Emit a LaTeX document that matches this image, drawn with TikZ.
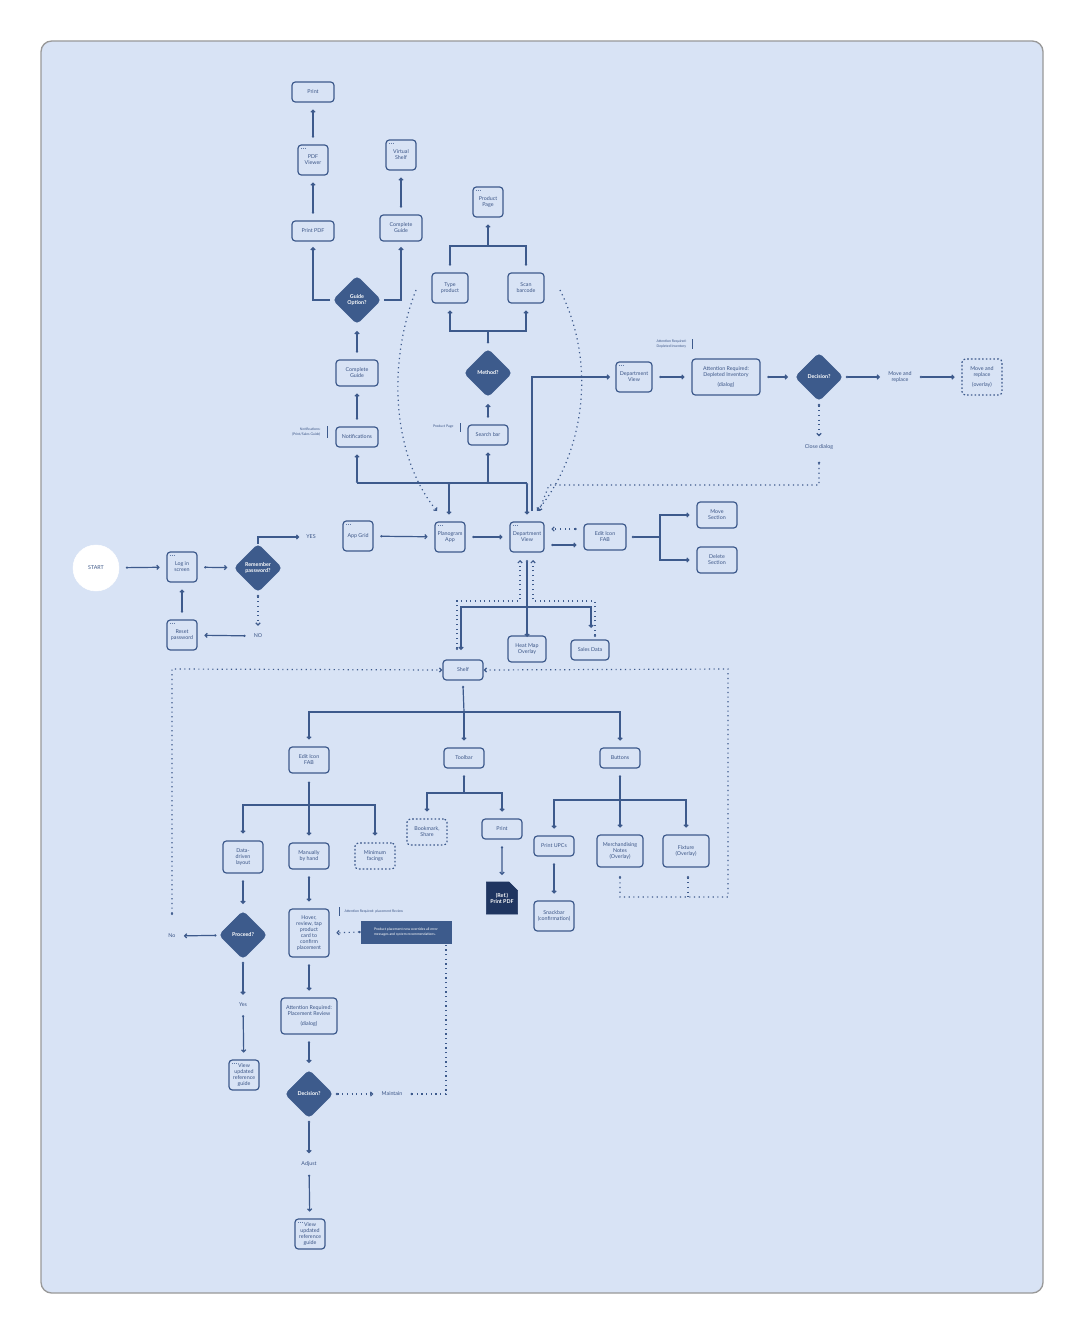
\documentclass[tikz,border=0pt]{standalone}
\usepackage{fontspec}
\setmainfont{Lato}
\usetikzlibrary{arrows.meta,shapes.geometric,shapes.misc}
\definecolor{bg}{HTML}{D8E3F5}
\definecolor{lc}{HTML}{3D5A8C}
\definecolor{tc}{HTML}{3B5586}
\definecolor{dc}{HTML}{3D5B8C}
\definecolor{dk}{HTML}{1F3560}
\newcommand\tf{\fontsize{4}{4.5}\selectfont}
\newcommand\tinyf{\fontsize{2.6}{3.2}\selectfont}
\newcommand\mydots[1]{\foreach \k in {0,1,2}{\fill[lc] ([shift={(4+2*\k,4)}]#1.north west) circle (0.35pt);}}
\tikzset{
 x=0.75pt,y=-0.75pt,
 bx/.style 2 args={draw=lc,line width=0.9pt,rounded corners=2.5pt,fill=bg,minimum width=#1*0.75pt,minimum height=#2*0.75pt,inner sep=0.5pt,align=center,font=\tf,text=tc},
 dbx/.style 2 args={bx={#1}{#2},dash pattern=on 1.2pt off 1.6pt},
 dia/.style={diamond,fill=dc,draw=dc,rounded corners=3pt,minimum width=48*0.75pt,minimum height=48*0.75pt,inner sep=0,text=white,font=\tf\bfseries,align=center},
 lbl/.style={font=\tf,text=tc,align=center,inner sep=1pt},
 ar/.style={line width=0.9pt,draw=lc,{Circle[length=1.6pt]}-{Straight Barb[length=1.6pt,width=3.2pt]},shorten <=5pt,shorten >=5pt},
 dar/.style={ar,dash pattern=on 0.9pt off 2.6pt},
 ln/.style={line width=0.9pt,draw=lc},
 dln/.style={ln,dash pattern=on 0.9pt off 2.6pt},
 tip/.style={ln,-{Straight Barb[length=1.6pt,width=3.2pt]}},
 dtip/.style={tip,dash pattern=on 0.9pt off 2.6pt},
}
\begin{document}
\begin{tikzpicture}
\useasboundingbox (0,0) rectangle (1084,1334);
\fill[white] (0,0) rectangle (1084,1334);
\draw[fill=bg,draw=gray!80,line width=1pt,rounded corners=8pt] (41,41) rectangle (1043,1293);

% ---- nodes
\node[circle,fill=white,draw=white,minimum size=46*0.75pt,font=\tf,text=tc] (start) at (96,568) {START};
\node[bx={30}{30}] (login) at (182,567) {Log in\\screen}; \mydots{login}
\node[dia] (rp) at (258,568) {Remember\\password?};
\node[lbl] (yes) at (311,537) {YES};
\node[lbl] (no) at (258,636) {NO};
\node[bx={30}{30}] (reset) at (182,635) {Reset\\password}; \mydots{reset}
\node[bx={30}{30}] (grid) at (358,536) {App Grid}; \mydots{grid}
\node[bx={30}{30}] (pa) at (450,537) {Planogram\\App}; \mydots{pa}
\node[bx={34}{30}] (dv) at (527,537) {Department\\View}; \mydots{dv}
\node[bx={42}{26}] (fab) at (605,537) {Edit Icon\\FAB};
\node[bx={40}{26}] (move) at (717,515) {Move\\Section};
\node[bx={40}{26}] (del) at (717,560) {Delete\\Section};
\node[bx={38}{26}] (heat) at (527,649) {Heat Map\\Overlay};
\node[bx={38}{20}] (sales) at (590,650) {Sales Data};
\node[bx={40}{20}] (shelf) at (463,670) {Shelf};

\node[bx={42}{20}] (notif) at (357,437) {Notifications};
\node[lbl,font=\tinyf,align=right,anchor=east] (notl) at (322,432) {Notifications:\\(Print/Sales Guide)};
\draw[ln,line width=0.6pt] (327,426) -- (327,438);
\node[bx={42}{26}] (cg1) at (357,373) {Complete\\Guide};
\node[dia] (go) at (357,300) {Guide\\Option?};
\node[bx={42}{20}] (ppdf) at (313,231) {Print PDF};
\node[bx={30}{30}] (pdfv) at (313,160) {PDF\\Viewer}; \mydots{pdfv}
\node[bx={42}{20}] (print1) at (313,92) {Print};
\node[bx={42}{26}] (cg2) at (401,228) {Complete\\Guide};
\node[bx={30}{30}] (vs) at (401,155) {Virtual\\Shelf}; \mydots{vs}

\node[bx={40}{20}] (sb) at (488,435) {Search bar};
\node[lbl,font=\tinyf,anchor=east] (ppl) at (455,427) {Product Page};
\draw[ln,line width=0.6pt] (460,423) -- (460,432);
\node[dia] (meth) at (488,373) {Method?};
\node[bx={36}{30}] (type) at (450,288) {Type\\product};
\node[bx={36}{30}] (scan) at (526,288) {Scan\\barcode};
\node[bx={30}{30}] (pp) at (488,202) {Product\\Page}; \mydots{pp}

\node[bx={36}{30}] (dv2) at (634,377) {Department\\View}; \mydots{dv2}
\node[bx={68}{36}] (att1) at (726,377) {Attention Required:\\Depleted Inventory\\[3pt](dialog)};
\node[lbl,font=\tinyf,align=left,anchor=east] (attl) at (688,344) {Attention Required:\\Depleted Inventory};
\draw[ln,line width=0.6pt] (692,339) -- (692,349);
\node[dia] (dec1) at (819,377) {Decision?};
\node[lbl] (mr) at (900,377) {Move and\\replace};
\node[dbx={40}{36}] (mro) at (982,377) {Move and\\replace\\[3pt](overlay)};
\node[lbl] (close) at (819,447) {Close dialog};

\node[bx={40}{26}] (fab2) at (309,760) {Edit Icon\\FAB};
\node[bx={40}{20}] (tool) at (464,758) {Toolbar};
\node[bx={40}{20}] (btn) at (620,758) {Buttons};
\node[bx={40}{32}] (dd) at (243,857) {Data-\\driven\\layout};
\node[bx={40}{26}] (man) at (309,856) {Manually\\by hand};
\node[dbx={40}{26}] (minf) at (375,856) {Minimum\\facings};
\node[dbx={40}{26}] (bm) at (427,832) {Bookmark,\\Share};
\node[bx={40}{20}] (print2) at (502,829) {Print};
\node[fill=dk,draw=dk,minimum width=26*0.75pt,minimum height=32*0.75pt,inner sep=0,text=white,font=\tf\bfseries,align=center,
  chamfered rectangle,chamfered rectangle corners=north east,chamfered rectangle xsep=3pt] (ref) at (502,898) {(Ref.)\\Print PDF};
\node[bx={40}{20}] (upc) at (554,846) {Print UPCs};
\node[bx={46}{32}] (merch) at (620,851) {Merchandising\\Notes\\(Overlay)};
\node[bx={46}{32}] (fix) at (686,851) {Fixture\\(Overlay)};
\node[bx={40}{30}] (snack) at (554,916) {Snackbar\\(confirmation)};
\node[dia] (proc) at (243,935) {Proceed?};
\node[lbl] (nol) at (172,936) {No};
\node[bx={40}{48}] (hover) at (309,933) {Hover,\\review, tap\\product\\card to\\confirm\\placement};
\node[lbl,font=\tinyf,anchor=west] (hovl) at (343,912) {Attention Required: placement Review};
\draw[ln,line width=0.6pt] (339,907) -- (339,916);
\node[fill=dc,draw=dc,minimum width=90*0.75pt,minimum height=22*0.75pt,inner sep=1pt,text=white,font=\tinyf,align=left] (tb) at (406,932) {Product placement now overrides all error\\messages and system recommendations.};
\node[lbl] (yesl) at (243,1005) {Yes};
\node[bx={30}{30}] (vu1) at (244,1075) {View\\updated\\reference\\guide}; \mydots{vu1}
\node[bx={56}{36}] (att2) at (309,1016) {Attention Required:\\Placement Review\\[3pt](dialog)};
\node[dia] (dec2) at (309,1094) {Decision?};
\node[lbl] (maint) at (392,1094) {Maintain};
\node[lbl] (adj) at (309,1164) {Adjust};
\node[bx={30}{30}] (vu2) at (310,1234) {View\\updated\\reference\\guide}; \mydots{vu2}

% ---- connectors, login row
\draw[ar] (start) -- (login);
\draw[ar] (login) -- (rp);
\draw[tip,shorten >=4pt] (rp.north) |- (yes.west);
\draw[dar,shorten <=2pt] (rp.south) -- (no);
\draw[ar] (no) -- (reset);
\draw[ar] (reset) -- (login);
\draw[ar] (grid) -- (pa);
\draw[ar] (pa) -- (dv);
\draw[dar] ([yshift=6]fab.west) -- ([yshift=6]dv.east);
\draw[ar] ([yshift=-6]dv.east) -- ([yshift=-6]fab.east-|fab.west);
\coordinate (fj) at (660,537);
\draw[ln,{Circle[length=1.6pt]}-] ([xshift=4pt]fab.east) -- (fj);
\draw[tip,shorten >=5pt] (fj) |- (move.west);
\draw[tip,shorten >=5pt] (fj) |- (del.west);

% bus above planogram
\coordinate (bl) at (357,483); \coordinate (br) at (527,483);
\draw[ln] (bl) -- (br);
\draw[ar,shorten <=0pt] (bl) -- (notif);
\draw[ar,shorten <=0pt] (488,483) -- (sb);
\draw[ar,shorten <=0pt] (449,483) -- (pa.north-|449,0);
\draw[ar,shorten <=0pt] (br) -- (dv);
\draw[tip,shorten >=4pt] (532,511) |- (dv2.west);
\draw[dtip] (416,290) .. controls (385,370) and (395,460) .. (437,511);
\draw[dtip] (560,290) .. controls (600,370) and (580,460) .. (537,511);
\draw[dtip,{Circle[length=1.6pt]}-{Straight Barb[length=1.6pt,width=3.2pt]}] ([yshift=-8]close.south) -- (819,485) -- (549,485) -- (539,511);

% upper left column
\draw[ar] (notif) -- (cg1);
\draw[ar] (cg1) -- (go);
\draw[tip,shorten >=4pt,shorten <=2pt] (go.west) -| (ppdf);
\draw[tip,shorten >=4pt,shorten <=2pt] (go.east) -| (cg2);
\draw[ar] (ppdf) -- (pdfv);
\draw[ar] (pdfv) -- (print1);
\draw[ar] (cg2) -- (vs);
% method
\draw[ar] (sb) -- (meth);
\coordinate (mj) at (488,331);
\draw[ln,{Circle[length=1.6pt]}-] ([yshift=4pt]meth.north) -- (mj);
\draw[tip,shorten >=5pt] (mj) -| (type);
\draw[tip,shorten >=5pt] (mj) -| (scan);
\coordinate (pj) at (488,246);
\draw[ln,{Circle[length=1.6pt]}-,shorten <=5pt] (type) |- (pj);
\draw[ln,{Circle[length=1.6pt]}-,shorten <=5pt] (scan) |- (pj);
\draw[tip,shorten >=5pt] (pj) -- (pp);
% right row
\draw[ar] (dv2) -- (att1);
\draw[ar] (att1) -- (dec1);
\draw[ar,shorten <=2pt] (dec1) -- (mr);
\draw[ar] (mr) -- (mro);
\draw[dar,shorten <=2pt] (dec1) -- (close);

% below department view
\draw[dtip,{Circle[length=1.6pt]}-{Straight Barb[length=1.6pt,width=3.2pt]}] (457,650) -- (457,601) -- (520,601) -- (520,560);
\draw[dtip,{Circle[length=1.6pt]}-{Straight Barb[length=1.6pt,width=3.2pt]}] (595,637) -- (595,601) -- (533,601) -- (533,560);
\coordinate (dj) at (527,607);
\draw[ln,{Circle[length=1.6pt]}-] (527,560) -- (dj);
\draw[tip] (dj) -- (461,607) -- (461,650);
\draw[tip] (dj) -- (591,607) -- (591,628);
\draw[tip] (dj) -- (527,637);

% shelf feedback
\draw[dtip,{Circle[length=1.6pt]}-{Straight Barb[length=1.6pt,width=3.2pt]}] (172,915) -- (172,669) -- (shelf.west);
\draw[dtip,{Circle[length=1.6pt]}-{Straight Barb[length=1.6pt,width=3.2pt]}] (620,876) -- (620,897) -- (728,897) -- (728,669) -- (shelf.east);
\draw[dln,{Circle[length=1.6pt]}-] (688,876) -- (688,897);

% shelf tree
\coordinate (sj) at (464,712);
\draw[ln,{Circle[length=1.6pt]}-] ([yshift=-4pt]shelf.south) -- (sj);
\draw[tip,shorten >=5pt] (sj) -| (fab2);
\draw[tip,shorten >=5pt] (sj) -- (tool);
\draw[tip,shorten >=5pt] (sj) -| (btn);
\coordinate (ej) at (309,805);
\draw[ln,{Circle[length=1.6pt]}-] ([yshift=-6pt]fab2.south) -- (ej);
\draw[tip,shorten >=5pt] (ej) -| (dd.north);
\draw[tip,shorten >=5pt] (ej) -- (man);
\draw[tip,shorten >=5pt] (ej) -| (minf.north);
\coordinate (tj) at (464,793);
\draw[ln,{Circle[length=1.6pt]}-] ([yshift=-5pt]tool.south) -- (tj);
\draw[tip,shorten >=5pt] (tj) -| (bm.north);
\draw[tip,shorten >=5pt] (tj) -| (print2.north);
\coordinate (uj) at (620,800);
\draw[ln,{Circle[length=1.6pt]}-] ([yshift=-5pt]btn.south) -- (uj);
\draw[tip,shorten >=5pt] (uj) -| (upc.north);
\draw[tip,shorten >=5pt] (uj) -- (merch);
\draw[tip,shorten >=5pt] (uj) -| (fix.north);
\draw[ar] (print2) -- (ref);
\draw[ar] (upc) -- (snack);

% lower flow
\draw[ar] (dd) -- (proc);
\draw[ar] (man) -- (hover);
\draw[ar,shorten <=2pt] (proc) -- (nol);
\draw[ar,shorten <=2pt] (proc) -- (yesl);
\draw[ar] (yesl) -- (vu1);
\draw[ar] (hover) -- (att2);
\draw[ar] (att2) -- (dec2);
\draw[dar,shorten <=2pt] (dec2) -- (maint);
\draw[ar,shorten <=2pt] (dec2) -- (adj);
\draw[ar] (adj) -- (vu2);
\draw[dar,shorten <=0pt] (tb.west) -- (hover.east);
\draw[dln,{Circle[length=1.6pt]}-] ([xshift=5pt]maint.east) -| (tb.south-|446,0);
\end{tikzpicture}
\end{document}
